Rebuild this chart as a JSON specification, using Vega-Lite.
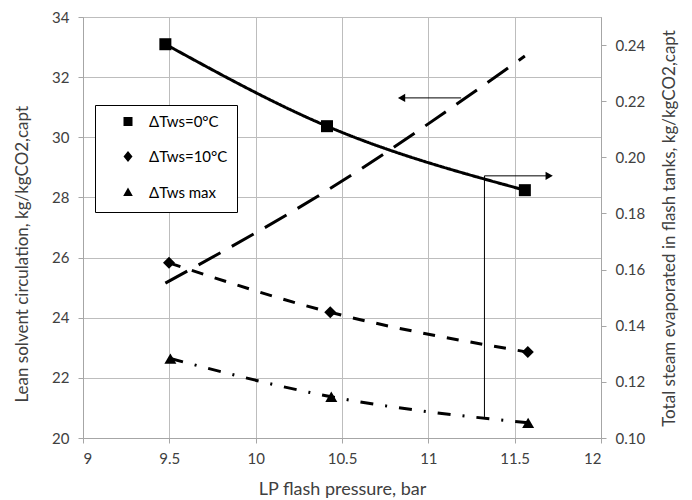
{
  "$schema": "https://vega.github.io/schema/vega-lite/v6.json",
  "width": 518,
  "height": 421,
  "autosize": "none",
  "padding": {"left": 83, "top": 17, "right": 91, "bottom": 62},
  "config": {
    "font": "Lato",
    "view": {"stroke": "#a6a6a6", "strokeWidth": 1},
    "axis": {
      "labelFont": "Lato",
      "labelFontSize": 15,
      "labelColor": "#404040",
      "titleFont": "Lato",
      "titleFontSize": 17,
      "titleFontWeight": "normal",
      "titleColor": "#404040",
      "domainColor": "#a6a6a6",
      "tickColor": "#a6a6a6",
      "gridColor": "#bdbdbd",
      "tickSize": 5,
      "labelPadding": 8
    }
  },
  "datasets": {
    "lean": [
      {"p": 9.477, "v": 25.15},
      {"p": 10.413, "v": 28.23},
      {"p": 11.559, "v": 32.7}
    ],
    "steam": [
      {"series": "ΔTws=0°C", "p": 9.477, "v": 0.2403},
      {"series": "ΔTws=0°C", "p": 10.413, "v": 0.2111},
      {"series": "ΔTws=0°C", "p": 11.559, "v": 0.1883},
      {"series": "ΔTws=10°C", "p": 9.498, "v": 0.1624},
      {"series": "ΔTws=10°C", "p": 10.432, "v": 0.1448},
      {"series": "ΔTws=10°C", "p": 11.576, "v": 0.1306},
      {"series": "ΔTws max", "p": 9.506, "v": 0.1283},
      {"series": "ΔTws max", "p": 10.438, "v": 0.1147},
      {"series": "ΔTws max", "p": 11.578, "v": 0.1054}
    ],
    "arrowLeft": [{"x": 11.19, "x2": 10.845, "y": 31.31}],
    "arrowRight": [{"x": 11.325, "x2": 11.70, "y": 0.1934, "y2": 0.1075}]
  },
  "layer": [
    {
      "layer": [
        {
          "data": {"name": "lean"},
          "mark": {"type": "line", "color": "black", "strokeWidth": 3, "strokeDash": [25, 13], "interpolate": "monotone"},
          "encoding": {
            "x": {"field": "p", "type": "quantitative", "scale": {"domain": [9, 12], "nice": false},
                  "axis": {"values": [9, 9.5, 10, 10.5, 11, 11.5, 12], "format": "~g", "grid": true, "title": "LP flash pressure, bar", "titleFontSize": 18, "titleBaseline": "alphabetic", "titleY": 56}},
            "y": {"field": "v", "type": "quantitative", "scale": {"domain": [20, 34], "nice": false, "zero": false},
                  "axis": {"values": [20, 22, 24, 26, 28, 30, 32, 34], "grid": true, "labelPadding": 9, "title": "Lean solvent circulation, kg/kgCO2,capt", "titleAngle": -90, "titleAlign": "left", "titleBaseline": "middle", "titleX": -61, "titleY": 385}}
          }
        },
        {
          "data": {"name": "arrowLeft"},
          "mark": {"type": "rule", "color": "black", "strokeWidth": 1},
          "encoding": {
            "x": {"field": "x", "type": "quantitative"},
            "x2": {"field": "x2"},
            "y": {"field": "y", "type": "quantitative"}
          }
        },
        {
          "data": {"name": "arrowLeft"},
          "mark": {"type": "point", "shape": "triangle-left", "filled": true, "color": "black", "size": 70, "opacity": 1},
          "encoding": {
            "x": {"field": "x2", "type": "quantitative"},
            "y": {"field": "y", "type": "quantitative"}
          }
        }
      ]
    },
    {
      "layer": [
        {
          "data": {"name": "steam"},
          "mark": {"type": "line", "color": "black", "strokeWidth": 3, "interpolate": "monotone"},
          "encoding": {
            "x": {"field": "p", "type": "quantitative"},
            "y": {"field": "v", "type": "quantitative", "scale": {"domain": [0.10, 0.25], "nice": false, "zero": false},
                  "axis": {"orient": "right", "values": [0.10, 0.12, 0.14, 0.16, 0.18, 0.20, 0.22, 0.24], "format": ".2f", "grid": false, "labelPadding": 9,
                           "title": "Total steam evaporated in flash tanks, kg/kgCO2,capt", "titleAngle": -90, "titleAlign": "center", "titleBaseline": "middle", "titleX": 68, "titleY": 211}},
            "strokeDash": {"field": "series", "type": "nominal",
                           "scale": {"domain": ["ΔTws=0°C", "ΔTws=10°C", "ΔTws max"], "range": [[1, 0], [12, 12], [13, 12, 2, 12]]},
                           "legend": null}
          }
        },
        {
          "data": {"name": "steam"},
          "mark": {"type": "point", "filled": true, "color": "black", "size": 144, "opacity": 1},
          "encoding": {
            "x": {"field": "p", "type": "quantitative"},
            "y": {"field": "v", "type": "quantitative"},
            "shape": {"field": "series", "type": "nominal",
                      "scale": {"domain": ["ΔTws=0°C", "ΔTws=10°C", "ΔTws max"], "range": ["square", "diamond", "triangle-up"]},
                      "legend": null}
          }
        },
        {
          "data": {"name": "steam"},
          "mark": {"type": "point", "filled": true, "color": "black", "stroke": "black", "strokeWidth": 3, "size": 144, "opacity": 0},
          "encoding": {
            "x": {"field": "p", "type": "quantitative"},
            "y": {"field": "v", "type": "quantitative"},
            "shape": {"field": "series", "type": "nominal",
                      "scale": {"domain": ["ΔTws=0°C", "ΔTws=10°C", "ΔTws max"],
                                "range": ["M-3.5,0H3.5M-0.75,-0.75H0.75V0.75H-0.75Z",
                                          "M-3.6,0H-1.4M0,-0.9L0.75,0L0,0.9L-0.75,0ZM0.7,0H2.8",
                                          "M-3.8,0H-1.8M0,-0.85L0.8,0.6L-0.8,0.6ZM2.7,0H3.2"]},
                      "legend": {"orient": "none", "legendX": 12, "legendY": 88, "title": null,
                                 "symbolOpacity": 1, "symbolStrokeWidth": 3, "symbolFillColor": "black", "symbolStrokeColor": "black",
                                 "symbolSize": 144, "labelFont": "Lato", "labelFontSize": 15, "labelColor": "black",
                                 "strokeColor": "black", "fillColor": "white", "padding": 9, "rowPadding": 13,
                                 "symbolOffset": 16.5, "labelOffset": 13.5}}
          }
        },
        {
          "data": {"name": "arrowRight"},
          "mark": {"type": "rule", "color": "black", "strokeWidth": 1},
          "encoding": {
            "x": {"field": "x", "type": "quantitative"},
            "x2": {"field": "x2"},
            "y": {"field": "y", "type": "quantitative"}
          }
        },
        {
          "data": {"name": "arrowRight"},
          "mark": {"type": "rule", "color": "black", "strokeWidth": 1},
          "encoding": {
            "x": {"field": "x", "type": "quantitative"},
            "y": {"field": "y", "type": "quantitative"},
            "y2": {"field": "y2"}
          }
        },
        {
          "data": {"name": "arrowRight"},
          "mark": {"type": "point", "shape": "triangle-right", "filled": true, "color": "black", "size": 70, "opacity": 1},
          "encoding": {
            "x": {"field": "x2", "type": "quantitative"},
            "y": {"field": "y", "type": "quantitative"}
          }
        }
      ],
      "resolve": {"scale": {"shape": "independent"}}
    }
  ],
  "resolve": {"scale": {"y": "independent"}}
}
